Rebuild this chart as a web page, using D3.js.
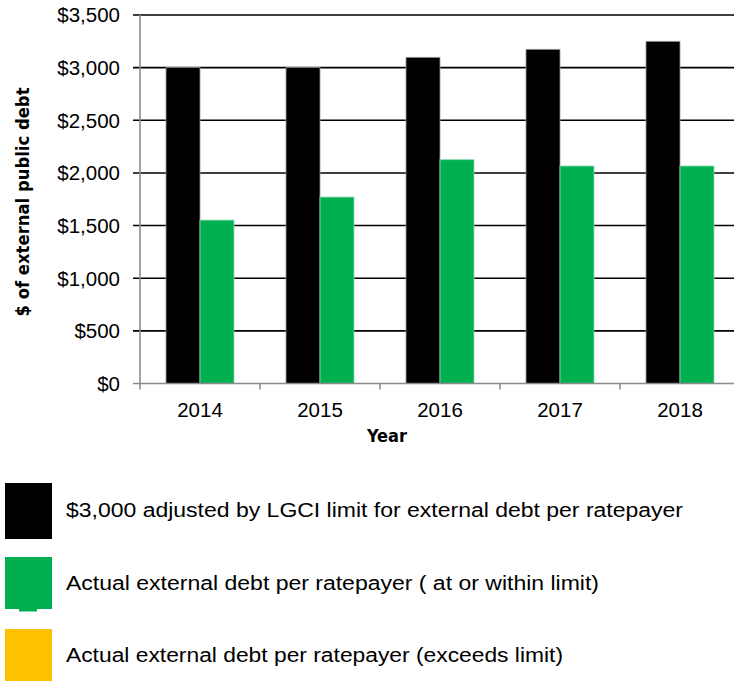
<!DOCTYPE html>
<html>
<head>
<meta charset="utf-8">
<script src="https://cdn.jsdelivr.net/npm/d3@7"></script>
<style>
  html, body { margin: 0; padding: 0; background: #fff; }
  svg { display: block; }
  .tick-label { font-family: "Liberation Sans", Arial, sans-serif; font-size: 20.5px; fill: #000; }
  .axis-title { font-family: "Liberation Sans Narrow", "DejaVu Sans Condensed", "Liberation Sans", sans-serif; font-weight: bold; font-stretch: condensed; fill: #000; }
  .legend-label { font-family: "Liberation Sans", Arial, sans-serif; font-size: 19.5px; fill: #000; }
</style>
</head>
<body>
<svg id="chart" width="734" height="681"></svg>
<script>
// Years on the x axis
const years = ["2014", "2015", "2016", "2017", "2018"];
// LGCI-adjusted limit for external debt per ratepayer
const limitValues = [3000, 3000, 3098, 3174, 3250];
// Actual external debt per ratepayer
const actualValues = [1552, 1771, 2126, 2066, 2066];
// Y axis tick values
const yTicks = [0, 500, 1000, 1500, 2000, 2500, 3000, 3500];

const legendItems = [
  { label: "$3,000 adjusted by LGCI limit for external debt per ratepayer", color: "#000000" },
  { label: "Actual external debt per ratepayer ( at or within limit)", color: "#00b050" },
  { label: "Actual external debt per ratepayer (exceeds limit)", color: "#ffc000" }
];

const svg = d3.select("#chart");
const plot = { left: 140, right: 740, top: 15, bottom: 383.5 };

const x = d3.scaleBand().domain(years).range([plot.left, plot.right]).paddingInner(0).paddingOuter(0);
const y = d3.scaleLinear().domain([0, 3500]).range([plot.bottom, plot.top]);
const barW = 34;

// Horizontal gridlines and left tick marks
const grid = svg.append("g");
grid.selectAll("line.grid")
  .data(yTicks.filter(d => d > 0))
  .join("line")
  .attr("x1", plot.left - 7).attr("x2", 734)
  .attr("y1", d => y(d)).attr("y2", d => y(d))
  .attr("stroke", "#000").attr("stroke-width", 1.6);

// Bars
const data = years.map((yr, i) => ({ yr, limit: limitValues[i], actual: actualValues[i] }));
const bars = svg.append("g");
bars.selectAll("rect.limit")
  .data(data)
  .join("rect")
  .attr("x", d => x(d.yr) + x.bandwidth() / 2 - barW)
  .attr("width", barW)
  .attr("y", d => y(d.limit))
  .attr("height", d => y(0) - y(d.limit))
  .attr("fill", "#000")
  .attr("stroke", "#9a9a9a").attr("stroke-width", 0.8);
bars.selectAll("rect.actual")
  .data(data)
  .join("rect")
  .attr("x", d => x(d.yr) + x.bandwidth() / 2)
  .attr("width", barW)
  .attr("y", d => y(d.actual))
  .attr("height", d => y(0) - y(d.actual))
  .attr("fill", "#00b050")
  .attr("stroke", "#8fdcae").attr("stroke-width", 0.8);

// Y axis line (grey) with the $0 tick
const axisColor = "#8c8c8c";
svg.append("line")
  .attr("x1", plot.left).attr("x2", plot.left)
  .attr("y1", plot.top).attr("y2", plot.bottom + 6)
  .attr("stroke", axisColor).attr("stroke-width", 1.6);
svg.append("line")
  .attr("x1", plot.left - 7).attr("x2", 734)
  .attr("y1", y(0)).attr("y2", y(0))
  .attr("stroke", axisColor).attr("stroke-width", 1.6);
// X axis category boundary ticks
svg.append("g").selectAll("line")
  .data(years.slice(1))
  .join("line")
  .attr("x1", d => x(d)).attr("x2", d => x(d))
  .attr("y1", y(0)).attr("y2", y(0) + 6)
  .attr("stroke", axisColor).attr("stroke-width", 1.6);

// Y tick labels
const fmt = d3.format("$,");
svg.append("g").selectAll("text")
  .data(yTicks)
  .join("text")
  .attr("class", "tick-label")
  .attr("x", 120)
  .attr("y", d => y(d))
  .attr("dy", "0.36em")
  .attr("text-anchor", "end")
  .text(d => fmt(d));

// X tick labels
svg.append("g").selectAll("text")
  .data(years)
  .join("text")
  .attr("class", "tick-label")
  .attr("x", d => x(d) + x.bandwidth() / 2)
  .attr("y", 417)
  .attr("text-anchor", "middle")
  .text(d => d);

// Axis titles
svg.append("text")
  .attr("class", "axis-title")
  .attr("x", 387).attr("y", 442)
  .attr("text-anchor", "middle")
  .style("font-size", "18px")
  .attr("textLength", 40).attr("lengthAdjust", "spacingAndGlyphs")
  .text("Year");
svg.append("text")
  .attr("class", "axis-title")
  .attr("transform", "translate(29,202) rotate(-90)")
  .attr("text-anchor", "middle")
  .style("font-size", "18px")
  .attr("textLength", 229).attr("lengthAdjust", "spacingAndGlyphs")
  .text("$ of external public debt");

// Legend
const legendRows = [
  { top: 483, h: 56, base: 517, w: 617 },
  { top: 557, h: 52, base: 590, w: 533 },
  { top: 629, h: 52, base: 662, w: 497 }
];
const legend = svg.append("g");
legendItems.forEach((item, i) => {
  const r = legendRows[i];
  legend.append("rect")
    .attr("x", 5).attr("y", r.top)
    .attr("width", 47).attr("height", r.h)
    .attr("fill", item.color);
  legend.append("text")
    .attr("class", "legend-label")
    .attr("x", 66).attr("y", r.base)
    .attr("textLength", r.w).attr("lengthAdjust", "spacingAndGlyphs")
    .text(item.label);
});
// small tab under the green swatch
legend.append("rect")
  .attr("x", 19).attr("y", 608)
  .attr("width", 18).attr("height", 3.5)
  .attr("fill", legendItems[1].color);
</script>
</body>
</html>
